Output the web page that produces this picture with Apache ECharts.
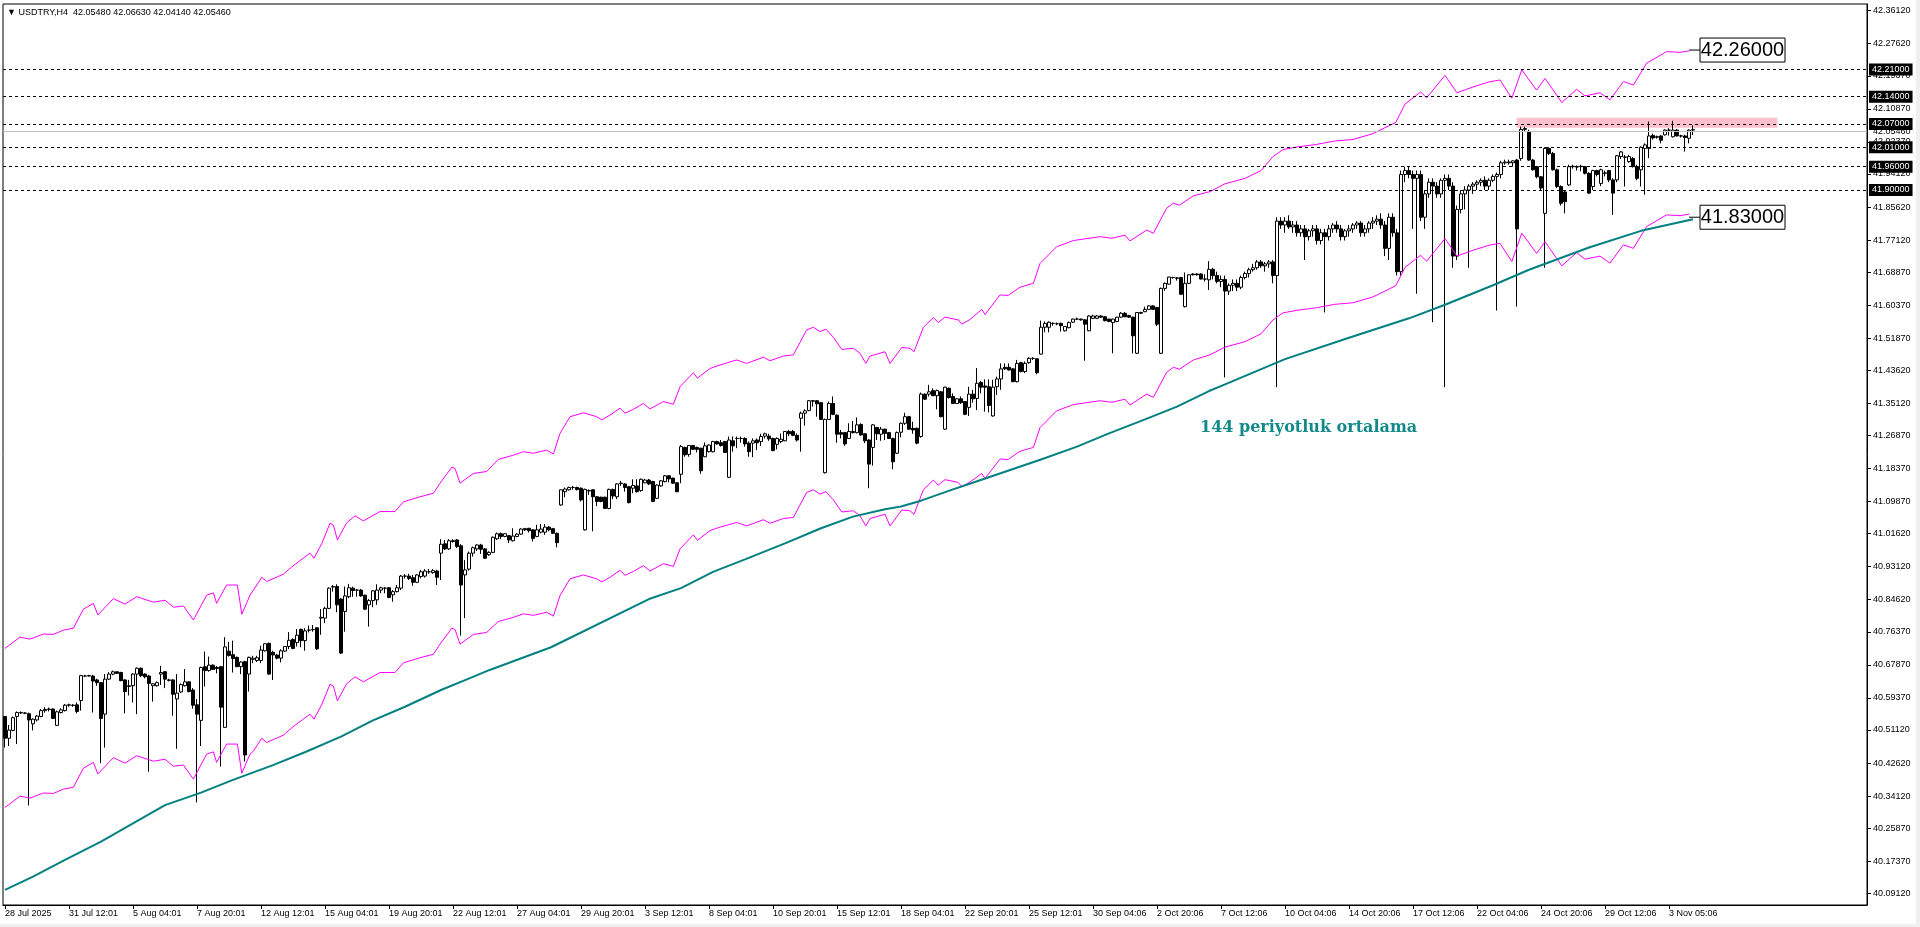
<!DOCTYPE html>
<html><head><meta charset="utf-8">
<script src="https://cdn.jsdelivr.net/npm/echarts@6/dist/echarts.min.js"></script>
<style>html,body{margin:0;padding:0;background:#fff;overflow:hidden}#c{width:1920px;height:927px}</style>
</head><body><div id="c"></div>
<script>
// ---------- data ----------
const headerText = '\u25BC USDTRY,H4  42.05480 42.06630 42.04140 42.05460';
const xLabels = ['28 Jul 2025','31 Jul 12:01','5 Aug 04:01','7 Aug 20:01','12 Aug 12:01','15 Aug 04:01','19 Aug 20:01','22 Aug 12:01','27 Aug 04:01','29 Aug 20:01','3 Sep 12:01','8 Sep 04:01','10 Sep 20:01','15 Sep 12:01','18 Sep 04:01','22 Sep 20:01','25 Sep 12:01','30 Sep 04:06','2 Oct 20:06','7 Oct 12:06','10 Oct 04:06','14 Oct 20:06','17 Oct 12:06','22 Oct 04:06','24 Oct 20:06','29 Oct 12:06','3 Nov 05:06'];
const barsPerLabel = 16;
const slotCount = 466;
const yTicks = [42.36120,42.27620,42.19370,42.10870,42.02370,41.94120,41.85620,41.77120,41.68870,41.60370,41.51870,41.43620,41.35120,41.26870,41.18370,41.09870,41.01620,40.93120,40.84620,40.76370,40.67870,40.59370,40.51120,40.42620,40.34120,40.25870,40.17370,40.09120];
const yMin = 40.0611, yMax = 42.3784;
const levelLines = [42.21, 42.14, 42.07, 42.01, 41.96, 41.90];
const bidPrice = 42.0546;
const zone = {start: 377.9, end: 443.1, top: 42.086, bottom: 42.060};
const targetUp = {idx: 423.75, value: 42.26, text: '42.26000'};
const targetDown = {idx: 423.75, value: 41.83, text: '41.83000'};
const maNote = {idx: 298.75, value: 41.289, text: '144 periyotluk ortalama'};

// open, high, low, close
const ohlc = [
[40.546,40.547,40.466,40.490],[40.490,40.524,40.470,40.511],[40.510,40.546,40.508,40.543],[40.546,40.559,40.475,40.556],[40.555,40.559,40.553,40.556],
[40.554,40.557,40.552,40.555],[40.553,40.556,40.317,40.537],[40.527,40.541,40.510,40.539],[40.537,40.550,40.533,40.547],[40.546,40.565,40.544,40.561],
[40.561,40.570,40.556,40.564],[40.564,40.569,40.559,40.565],[40.565,40.567,40.540,40.541],[40.523,40.561,40.523,40.558],[40.556,40.567,40.554,40.563],
[40.561,40.578,40.559,40.575],[40.575,40.579,40.571,40.576],[40.575,40.578,40.571,40.574],[40.576,40.582,40.554,40.559],[40.587,40.653,40.561,40.651],
[40.650,40.653,40.649,40.650],[40.650,40.653,40.649,40.651],[40.650,40.653,40.556,40.637],[40.640,40.643,40.625,40.633],[40.633,40.635,40.426,40.541],
[40.552,40.655,40.466,40.642],[40.642,40.660,40.640,40.655],[40.655,40.664,40.652,40.661],[40.661,40.661,40.655,40.657],[40.659,40.661,40.637,40.638],
[40.640,40.642,40.554,40.610],[40.623,40.640,40.600,40.625],[40.625,40.657,40.582,40.655],[40.655,40.672,40.552,40.670],[40.670,40.672,40.647,40.651],
[40.655,40.657,40.644,40.648],[40.650,40.653,40.404,40.631],[40.625,40.631,40.584,40.630],[40.625,40.636,40.623,40.633],[40.655,40.676,40.627,40.659],
[40.661,40.663,40.619,40.642],[40.640,40.643,40.636,40.639],[40.640,40.642,40.548,40.603],[40.591,40.655,40.463,40.606],[40.609,40.631,40.606,40.628],
[40.625,40.668,40.623,40.635],[40.635,40.636,40.608,40.610],[40.614,40.619,40.566,40.575],[40.576,40.591,40.325,40.552],[40.536,40.674,40.470,40.672],
[40.674,40.713,40.623,40.664],[40.664,40.700,40.661,40.678],[40.678,40.680,40.666,40.667],[40.672,40.676,40.657,40.669],[40.674,40.676,40.417,40.570],
[40.518,40.750,40.517,40.725],[40.714,40.738,40.700,40.703],[40.705,40.741,40.659,40.695],[40.698,40.700,40.673,40.674],[40.674,40.688,40.655,40.686],
[40.687,40.689,40.430,40.447],[40.655,40.700,40.610,40.698],[40.693,40.702,40.683,40.696],[40.690,40.702,40.686,40.697],[40.690,40.728,40.683,40.717],
[40.715,40.734,40.713,40.733],[40.734,40.736,40.653,40.655],[40.711,40.715,40.640,40.704],[40.704,40.707,40.693,40.696],[40.696,40.719,40.685,40.715],
[40.714,40.727,40.712,40.726],[40.726,40.763,40.719,40.742],[40.744,40.747,40.719,40.721],[40.736,40.771,40.726,40.755],[40.770,40.772,40.724,40.741],
[40.741,40.773,40.715,40.766],[40.768,40.780,40.762,40.768],[40.769,40.781,40.764,40.770],[40.774,40.775,40.717,40.720],[40.799,40.822,40.756,40.801],
[40.799,40.828,40.786,40.824],[40.824,40.878,40.822,40.876],[40.879,40.884,40.867,40.880],[40.880,40.886,40.814,40.833],[40.848,40.850,40.707,40.709],
[40.816,40.880,40.764,40.856],[40.854,40.887,40.850,40.877],[40.876,40.880,40.854,40.870],[40.871,40.873,40.854,40.871],[40.871,40.874,40.854,40.856],
[40.858,40.859,40.820,40.822],[40.833,40.848,40.777,40.844],[40.844,40.871,40.827,40.869],[40.846,40.886,40.833,40.871],[40.871,40.880,40.863,40.877],
[40.876,40.878,40.863,40.876],[40.877,40.879,40.850,40.852],[40.859,40.871,40.841,40.867],[40.867,40.884,40.865,40.877],[40.876,40.910,40.871,40.907],
[40.907,40.912,40.901,40.907],[40.907,40.913,40.897,40.901],[40.903,40.910,40.882,40.891],[40.891,40.912,40.889,40.910],[40.906,40.923,40.901,40.918],
[40.907,40.925,40.903,40.920],[40.918,40.925,40.913,40.918],[40.916,40.925,40.913,40.921],[40.920,40.923,40.884,40.904],[40.966,41.002,40.897,40.989],
[40.990,41.000,40.974,40.977],[40.977,41.002,40.974,40.998],[40.998,41.002,40.993,40.996],[41.000,41.002,40.979,40.983],[40.985,40.989,40.754,40.884],
[40.910,40.948,40.799,40.923],[40.925,40.970,40.921,40.966],[40.966,40.983,40.957,40.980],[40.977,40.989,40.972,40.987],[40.987,40.990,40.964,40.976],
[40.977,40.979,40.951,40.953],[40.962,40.971,40.959,40.968],[40.968,41.009,40.966,41.007],[41.003,41.019,41.000,41.016],[41.016,41.019,41.002,41.009],
[41.009,41.017,41.007,41.016],[41.011,41.013,40.992,41.000],[40.998,41.030,40.996,41.010],[41.009,41.017,41.007,41.015],[41.015,41.030,41.013,41.028],
[41.029,41.031,41.023,41.026],[41.030,41.031,41.019,41.024],[41.026,41.027,40.996,41.004],[41.009,41.039,41.007,41.026],[41.020,41.041,41.017,41.028],
[41.020,41.041,41.013,41.033],[41.033,41.036,41.022,41.026],[41.029,41.031,41.016,41.017],[41.017,41.019,40.981,40.993],[41.090,41.130,41.088,41.129],
[41.124,41.135,41.110,41.131],[41.129,41.137,41.127,41.135],[41.135,41.139,41.129,41.135],[41.135,41.137,41.127,41.130],[41.133,41.135,41.099,41.103],
[41.026,41.132,41.024,41.130],[41.127,41.130,41.116,41.126],[41.129,41.130,41.022,41.111],[41.111,41.113,41.087,41.099],[41.110,41.111,41.097,41.099],
[41.110,41.111,41.080,41.081],[41.081,41.132,41.079,41.130],[41.130,41.132,41.105,41.113],[41.111,41.146,41.105,41.144],[41.146,41.152,41.139,41.145],
[41.144,41.146,41.124,41.135],[41.137,41.139,41.094,41.096],[41.133,41.156,41.120,41.140],[41.139,41.156,41.122,41.124],[41.127,41.158,41.124,41.156],
[41.147,41.157,41.146,41.154],[41.154,41.157,41.141,41.144],[41.150,41.152,41.097,41.099],[41.107,41.143,41.105,41.141],[41.139,41.154,41.137,41.152],
[41.150,41.167,41.148,41.165],[41.165,41.167,41.148,41.157],[41.159,41.160,41.144,41.146],[41.147,41.149,41.123,41.124],[41.169,41.244,41.146,41.240],
[41.238,41.240,41.214,41.219],[41.220,41.244,41.214,41.243],[41.243,41.244,41.232,41.233],[41.238,41.240,41.225,41.233],[41.236,41.237,41.170,41.178],
[41.214,41.251,41.213,41.242],[41.227,41.246,41.225,41.244],[41.227,41.255,41.225,41.253],[41.253,41.255,41.245,41.247],[41.250,41.257,41.240,41.243],
[41.253,41.255,41.224,41.225],[41.161,41.266,41.160,41.257],[41.255,41.266,41.227,41.242],[41.261,41.266,41.236,41.261],[41.261,41.266,41.250,41.261],
[41.261,41.264,41.240,41.247],[41.249,41.253,41.214,41.227],[41.249,41.261,41.213,41.255],[41.257,41.261,41.231,41.250],[41.253,41.273,41.242,41.266],
[41.267,41.276,41.261,41.273],[41.267,41.273,41.255,41.260],[41.261,41.263,41.228,41.230],[41.246,41.264,41.233,41.261],[41.253,41.274,41.249,41.259],
[41.255,41.280,41.254,41.279],[41.279,41.283,41.267,41.273],[41.279,41.283,41.267,41.269],[41.269,41.274,41.253,41.257],[41.313,41.330,41.227,41.326],
[41.326,41.336,41.294,41.332],[41.333,41.360,41.331,41.358],[41.358,41.360,41.343,41.357],[41.358,41.360,41.317,41.350],[41.353,41.355,41.309,41.310],
[41.173,41.312,41.171,41.310],[41.310,41.356,41.309,41.351],[41.351,41.369,41.321,41.323],[41.321,41.323,41.250,41.272],[41.276,41.283,41.261,41.272],
[41.276,41.278,41.242,41.247],[41.261,41.300,41.261,41.279],[41.279,41.306,41.274,41.276],[41.276,41.315,41.274,41.296],[41.297,41.300,41.268,41.270],
[41.273,41.274,41.249,41.255],[41.257,41.259,41.133,41.195],[41.238,41.298,41.191,41.296],[41.289,41.291,41.257,41.273],[41.272,41.291,41.255,41.285],
[41.285,41.286,41.257,41.274],[41.276,41.278,41.260,41.261],[41.261,41.263,41.182,41.201],[41.223,41.279,41.221,41.276],[41.277,41.302,41.264,41.300],
[41.300,41.327,41.296,41.317],[41.317,41.319,41.283,41.285],[41.287,41.304,41.273,41.283],[41.287,41.289,41.246,41.249],[41.266,41.379,41.263,41.375],
[41.375,41.377,41.360,41.362],[41.375,41.399,41.369,41.381],[41.384,41.390,41.370,41.371],[41.371,41.387,41.336,41.384],[41.381,41.383,41.315,41.317],
[41.285,41.394,41.283,41.393],[41.390,41.392,41.364,41.366],[41.369,41.377,41.350,41.351],[41.351,41.364,41.350,41.363],[41.363,41.369,41.350,41.353],
[41.356,41.357,41.321,41.323],[41.341,41.394,41.319,41.375],[41.375,41.386,41.353,41.363],[41.364,41.442,41.334,41.403],[41.405,41.409,41.377,41.393],
[41.396,41.413,41.330,41.393],[41.394,41.413,41.328,41.346],[41.319,41.412,41.317,41.393],[41.394,41.420,41.373,41.414],[41.414,41.454,41.386,41.440],
[41.444,41.454,41.437,41.440],[41.444,41.454,41.436,41.437],[41.440,41.442,41.406,41.407],[41.407,41.463,41.405,41.454],[41.456,41.458,41.431,41.433],
[41.433,41.459,41.429,41.454],[41.456,41.470,41.453,41.467],[41.467,41.470,41.463,41.467],[41.466,41.467,41.426,41.430],[41.478,41.564,41.477,41.547],
[41.547,41.562,41.534,41.557],[41.547,41.562,41.534,41.560],[41.557,41.559,41.551,41.557],[41.556,41.559,41.552,41.556],[41.557,41.559,41.536,41.551],
[41.538,41.550,41.536,41.549],[41.546,41.562,41.544,41.559],[41.560,41.569,41.558,41.568],[41.568,41.572,41.566,41.568],[41.568,41.569,41.564,41.566],
[41.566,41.568,41.461,41.555],[41.538,41.578,41.537,41.576],[41.570,41.579,41.568,41.576],[41.570,41.578,41.568,41.576],[41.576,41.578,41.571,41.573],
[41.574,41.576,41.562,41.564],[41.568,41.569,41.560,41.562],[41.559,41.569,41.480,41.568],[41.562,41.574,41.560,41.573],[41.573,41.586,41.571,41.583],
[41.583,41.586,41.573,41.574],[41.577,41.579,41.571,41.573],[41.573,41.574,41.480,41.525],[41.480,41.586,41.478,41.585],[41.583,41.587,41.581,41.585],
[41.587,41.600,41.586,41.593],[41.593,41.604,41.592,41.602],[41.602,41.604,41.592,41.593],[41.598,41.599,41.550,41.555],[41.480,41.649,41.478,41.647],
[41.647,41.662,41.641,41.660],[41.658,41.677,41.657,41.676],[41.675,41.677,41.672,41.675],[41.674,41.676,41.667,41.673],[41.675,41.676,41.630,41.632],
[41.600,41.688,41.598,41.660],[41.660,41.683,41.658,41.682],[41.684,41.686,41.680,41.682],[41.684,41.686,41.680,41.682],[41.684,41.686,41.670,41.671],
[41.671,41.683,41.665,41.671],[41.669,41.717,41.643,41.696],[41.696,41.700,41.670,41.680],[41.680,41.690,41.660,41.665],[41.665,41.680,41.650,41.670],
[41.670,41.680,41.418,41.640],[41.640,41.660,41.630,41.655],[41.655,41.670,41.640,41.660],[41.660,41.670,41.640,41.650],[41.650,41.680,41.645,41.675],
[41.675,41.690,41.670,41.685],[41.685,41.700,41.675,41.695],[41.695,41.710,41.690,41.700],[41.700,41.720,41.695,41.715],[41.715,41.720,41.700,41.705],
[41.705,41.715,41.690,41.710],[41.710,41.720,41.700,41.715],[41.715,41.720,41.660,41.680],[41.680,41.830,41.393,41.820],[41.820,41.830,41.800,41.810],
[41.810,41.830,41.790,41.820],[41.820,41.835,41.800,41.805],[41.805,41.820,41.790,41.810],[41.810,41.820,41.780,41.790],[41.790,41.810,41.780,41.800],
[41.800,41.810,41.720,41.780],[41.780,41.800,41.770,41.795],[41.795,41.810,41.780,41.800],[41.800,41.810,41.760,41.770],[41.770,41.800,41.760,41.790],
[41.790,41.800,41.585,41.780],[41.780,41.810,41.770,41.800],[41.800,41.815,41.790,41.810],[41.810,41.820,41.790,41.800],[41.800,41.810,41.770,41.780],
[41.780,41.800,41.770,41.795],[41.795,41.810,41.780,41.800],[41.800,41.815,41.790,41.810],[41.810,41.820,41.800,41.815],[41.815,41.820,41.780,41.790],
[41.790,41.810,41.780,41.800],[41.800,41.820,41.790,41.815],[41.815,41.830,41.800,41.820],[41.820,41.835,41.810,41.825],[41.825,41.840,41.800,41.810],
[41.810,41.820,41.730,41.750],[41.750,41.840,41.720,41.830],[41.830,41.840,41.780,41.790],[41.790,41.800,41.680,41.690],[41.690,41.950,41.680,41.940],
[41.940,41.960,41.920,41.950],[41.950,41.960,41.930,41.940],[41.940,41.950,41.800,41.930],[41.930,41.950,41.633,41.940],[41.940,41.950,41.820,41.830],
[41.830,41.900,41.800,41.890],[41.890,41.930,41.880,41.920],[41.920,41.930,41.560,41.910],[41.910,41.920,41.880,41.890],[41.890,41.930,41.880,41.925],
[41.925,41.940,41.393,41.930],[41.930,41.940,41.900,41.910],[41.910,41.920,41.700,41.730],[41.730,41.860,41.720,41.850],[41.850,41.900,41.840,41.890],
[41.890,41.910,41.850,41.900],[41.900,41.915,41.700,41.910],[41.910,41.920,41.890,41.915],[41.915,41.925,41.900,41.920],[41.920,41.930,41.910,41.925],
[41.925,41.935,41.900,41.910],[41.910,41.930,41.900,41.925],[41.925,41.940,41.920,41.935],[41.935,41.945,41.590,41.940],[41.940,41.975,41.930,41.970],
[41.970,41.978,41.965,41.972],[41.972,41.978,41.965,41.970],[41.970,41.976,41.960,41.975],[41.977,41.980,41.600,41.800],[41.981,42.063,41.975,42.056],
[42.056,42.063,42.050,42.058],[42.050,42.055,41.975,41.977],[41.977,41.980,41.950,41.952],[41.960,41.962,41.930,41.934],[41.934,41.936,41.900,41.905],
[41.840,42.010,41.700,42.007],[42.007,42.010,41.990,41.994],[41.994,41.998,41.950,41.952],[41.952,41.955,41.905,41.909],[41.909,41.912,41.860,41.866],
[41.895,41.900,41.840,41.870],[41.913,41.965,41.910,41.960],[41.960,41.965,41.955,41.961],[41.960,41.963,41.950,41.959],[41.960,41.965,41.948,41.961],
[41.960,41.962,41.940,41.943],[41.943,41.945,41.890,41.892],[41.909,41.952,41.900,41.950],[41.950,41.952,41.935,41.940],[41.917,41.955,41.910,41.952],
[41.943,41.950,41.935,41.944],[41.950,41.952,41.920,41.926],[41.926,41.930,41.836,41.892],[41.926,41.990,41.920,41.988],[41.986,42.000,41.980,41.998],
[41.984,41.990,41.909,41.985],[41.973,41.990,41.970,41.986],[41.981,41.985,41.958,41.960],[41.960,41.965,41.925,41.930],[41.952,42.012,41.909,42.010],
[42.007,42.020,41.888,42.016],[42.007,42.076,41.982,42.039],[42.040,42.045,42.030,42.034],[42.037,42.040,42.032,42.036],[42.039,42.041,42.020,42.028],
[42.042,42.056,42.040,42.054],[42.054,42.059,42.040,42.054],[42.037,42.078,42.035,42.054],[42.054,42.057,42.038,42.039],[42.039,42.042,42.035,42.039],
[42.039,42.042,41.999,42.035],[42.033,42.056,42.020,42.054],[42.0548,42.0663,42.0414,42.0546]
];

// 144-period moving average: [bar index, price]
const ma144 = [[0,40.100],[7,40.134],[15,40.177],[24,40.224],[32,40.271],[40,40.318],[49,40.350],[57,40.383],[67,40.421],[75.4,40.456],[84,40.494],[92,40.536],[100,40.571],[109,40.614],[117,40.648],[121,40.665],[136.5,40.724],[161,40.848],[169,40.876],[177,40.918],[185,40.950],[195,40.991],[204,41.030],[212,41.060],[220,41.079],[224,41.086],[229,41.101],[237,41.130],[241,41.144],[259,41.207],[268,41.240],[276,41.274],[285,41.310],[293,41.343],[301,41.383],[305,41.400],[320,41.465],[336,41.520],[351,41.570],[360,41.605],[372,41.655],[381,41.695],[396,41.752],[409,41.795],[422,41.825]];

// envelope bands: [bar index, price]
const upperBand = [[0,40.721],[3.75,40.750],[6.25,40.745],[9.6,40.758],[12.1,40.757],[14.6,40.768],[17.1,40.773],[19.6,40.822],[22.1,40.837],[23.2,40.807],[27.1,40.849],[30,40.835],[32.9,40.854],[37.1,40.840],[40,40.845],[42.1,40.827],[44.6,40.830],[47.1,40.794],[50.4,40.858],[52.1,40.864],[52.9,40.837],[55.4,40.884],[58.1,40.884],[59.2,40.809],[61.25,40.858],
[62.1,40.871],[64.2,40.904],[65.4,40.893],[69.6,40.912],[71.7,40.931],[76.25,40.966],[77.25,40.953],[79.2,40.991],[81.25,41.043],[82.1,41.038],[83.1,41.000],[85.4,41.044],[87.5,41.062],[89.6,41.049],[93.75,41.073],[97.5,41.073],[99.6,41.098],[103.75,41.111],[107.1,41.120],[108.75,41.146],[111.7,41.187],[112.5,41.184],[113.75,41.146],[117.1,41.171],[120.4,41.176],
[123.3,41.207],[127.1,41.218],[129.6,41.227],[132.1,41.223],[135.4,41.231],[137.1,41.221],[138.75,41.274],[141.25,41.317],[144.6,41.327],[147.9,41.317],[149.2,41.309],[151.25,41.321],[153.75,41.339],[155,41.326],[157.1,41.336],[159.6,41.351],[161.25,41.337],[164.6,41.356],[167.1,41.349],[168.75,41.394],[172.1,41.430],[173.1,41.416],[176.25,41.441],[178.75,41.450],
[182.9,41.463],[185.4,41.454],[189.6,41.470],[191.25,41.461],[194.6,41.473],[197.1,41.476],[200.4,41.540],[202.1,41.547],[203.75,41.536],[205.25,41.542],[207.1,41.521],[209.2,41.490],[212.1,41.493],[213.75,41.480],[215.2,41.454],[216.25,41.473],[220,41.484],[221.25,41.454],[224.2,41.495],[226.25,41.493],[227.25,41.484],[229.6,41.547],[232.1,41.572],[233.3,41.559],[235,41.573],[238.3,41.566],[239.2,41.555],[241.25,41.567],
[244.2,41.593],[245,41.580],[248.75,41.630],[250.8,41.629],[253.75,41.650],[257.1,41.660],[258.75,41.711],[262.9,41.754],[267.1,41.770],[273.75,41.780],[276.7,41.776],[280,41.784],[281.25,41.769],[285.4,41.797],[287.1,41.789],[290.4,41.853],[292.1,41.866],[293.6,41.861],[297.1,41.885],[301.25,41.896],
[305,41.916],[310,41.930],[314,41.950],[317,41.986],[319.5,42.004],[323.2,42.011],[327.8,42.017],[332.4,42.026],[337,42.030],[342,42.045],[347.7,42.074],[350,42.121],[353.9,42.152],[355.4,42.137],[360,42.195],[363,42.150],[367,42.165],[371,42.178],[373.75,42.183],[376.7,42.136],[379.2,42.209],[382.9,42.157],[385,42.187],[389.2,42.125],[392.9,42.159],[395,42.142],[398.75,42.150],[401.25,42.132],[404.6,42.179],[407.1,42.170],[410.4,42.226],[415.4,42.256],[418.75,42.254],[421.1,42.258]];
const lowerBand = [[0,40.312],[3.75,40.341],[6.25,40.336],[9.6,40.349],[12.1,40.348],[14.6,40.359],[17.1,40.364],[19.6,40.413],[22.1,40.428],[23.2,40.398],[27.1,40.440],[30,40.426],[32.9,40.445],[37.1,40.431],[40,40.436],[42.1,40.418],[44.6,40.421],[47.1,40.385],[50.4,40.449],[52.1,40.455],[52.9,40.428],[55.4,40.475],[58.1,40.475],[59.2,40.400],[61.25,40.449],
[62.1,40.457],[64.2,40.490],[65.4,40.479],[69.6,40.498],[71.7,40.517],[76.25,40.552],[77.25,40.539],[79.2,40.577],[81.25,40.629],[82.1,40.624],[83.1,40.586],[85.4,40.630],[87.5,40.648],[89.6,40.635],[93.75,40.659],[97.5,40.659],[99.6,40.684],[103.75,40.697],[107.1,40.706],[108.75,40.732],[111.7,40.773],[112.5,40.770],[113.75,40.732],[117.1,40.757],[120.4,40.762],
[123.3,40.790],[127.1,40.801],[129.6,40.810],[132.1,40.806],[135.4,40.814],[137.1,40.804],[138.75,40.857],[141.25,40.900],[144.6,40.910],[147.9,40.900],[149.2,40.892],[151.25,40.904],[153.75,40.922],[155,40.909],[157.1,40.919],[159.6,40.934],[161.25,40.920],[164.6,40.939],[167.1,40.932],[168.75,40.977],[172.1,41.013],[173.1,40.999],[176.25,41.024],[178.75,41.033],
[182.9,41.045],[185.4,41.036],[189.6,41.052],[191.25,41.043],[194.6,41.055],[197.1,41.058],[200.4,41.122],[202.1,41.129],[203.75,41.118],[205.25,41.124],[207.1,41.103],[209.2,41.072],[212.1,41.075],[213.75,41.062],[215.2,41.036],[216.25,41.055],[220,41.066],[221.25,41.036],[224.2,41.077],[226.25,41.075],[227.25,41.066],[229.6,41.129],[232.1,41.154],[233.3,41.141],[235,41.155],[238.3,41.148],[239.2,41.137],[241.25,41.149],
[244.2,41.171],[245,41.158],[248.75,41.208],[250.8,41.207],[253.75,41.228],[257.1,41.238],[258.75,41.289],[262.9,41.332],[267.1,41.348],[273.75,41.358],[276.7,41.354],[280,41.362],[281.25,41.347],[285.4,41.375],[287.1,41.367],[290.4,41.431],[292.1,41.444],[293.6,41.439],[297.1,41.463],[301.25,41.476],
[305,41.496],[310,41.510],[314,41.530],[317,41.566],[319.5,41.584],[323.2,41.591],[327.8,41.597],[332.4,41.606],[337,41.610],[342,41.625],[347.7,41.654],[350,41.701],[353.9,41.732],[355.4,41.717],[360,41.775],[363,41.730],[367,41.745],[371,41.758],[373.75,41.763],[376.7,41.716],[379.2,41.789],[382.9,41.737],[385,41.767],[389.2,41.705],[392.9,41.739],[395,41.722],[398.75,41.730],[401.25,41.712],[404.6,41.759],[407.1,41.750],[410.4,41.806],[415.4,41.836],[418.75,41.834],[421.1,41.838]];

// ---------- chart ----------
const categories = Array.from({length: slotCount}, (_, i) => String(i));
const isLabelSlot = (i) => i % barsPerLabel === 0 && (i / barsPerLabel) < xLabels.length;
const candleData = ohlc.map(r => [r[0], r[3], r[2], r[1]]);
const FONT = 'Liberation Sans, Arial, sans-serif';

const chart = echarts.init(document.getElementById('c'), null, {renderer: 'canvas'});
const levelItems = [{yAxis: bidPrice, lineStyle: {type: 'solid', color: '#c0c0c0', width: 1},
   label: {show: true, position: 'end', distance: 6, formatter: () => bidPrice.toFixed(5), color: '#000',
     backgroundColor: 'transparent', padding: 0, fontSize: 9, fontFamily: FONT}}]
  .concat(levelLines.map(v => ({yAxis: v, label: {formatter: () => v.toFixed(5)}})));

chart.setOption({
  animation: false,
  backgroundColor: '#ffffff',
  grid: {left: 3, right: 53, top: 4, bottom: 22, show: true, borderColor: '#000', borderWidth: 1, backgroundColor: 'rgba(0,0,0,0)'},
  xAxis: [{
    type: 'category', data: categories, boundaryGap: true,
    axisLine: {show: true, lineStyle: {color: '#000', width: 1}},
    axisTick: {show: true, alignWithLabel: true, interval: (i) => isLabelSlot(i), length: 4, lineStyle: {color: '#000'}},
    axisLabel: {show: true, interval: (i) => isLabelSlot(i), formatter: (v) => xLabels[Number(v) / barsPerLabel] || '',
      align: 'left', color: '#000', fontSize: 9, fontFamily: FONT, margin: 4},
    splitLine: {show: false}
  }, {
    type: 'value', min: -0.5, max: slotCount - 0.5, show: false
  }],
  yAxis: {
    type: 'value', position: 'right', min: yMin, max: yMax,
    axisLine: {show: true, onZero: false, lineStyle: {color: '#000'}},
    axisTick: {show: true, length: 4, customValues: yTicks, lineStyle: {color: '#000'}},
    axisLabel: {show: true, customValues: yTicks, formatter: (v) => Number(v).toFixed(5), color: '#000', fontSize: 9, fontFamily: FONT, margin: 6},
    splitLine: {show: false}
  },
  series: [
    {
      type: 'line', xAxisIndex: 1, z: 1, silent: true, symbol: 'none',
      data: [[zone.start, zone.bottom], [zone.end, zone.bottom]], lineStyle: {width: 0, opacity: 0},
      markArea: {silent: true, itemStyle: {color: '#ffc0cb', opacity: 1},
        data: [[{xAxis: zone.start, yAxis: zone.top}, {xAxis: zone.end, yAxis: zone.bottom}]]},
      markLine: {silent: true, symbol: ['none', 'none'], animation: false,
        lineStyle: {type: [3, 3], color: '#000', width: 1},
        label: {show: true, position: 'end', distance: 2, color: '#fff', backgroundColor: '#000', padding: [2, 3, 1, 3],
          fontSize: 9, fontFamily: FONT},
        data: levelItems}
    },
    {
      type: 'candlestick', xAxisIndex: 0, z: 3, barWidth: 3, data: candleData,
      itemStyle: {color: '#ffffff', color0: '#000000', borderColor: '#000000', borderColor0: '#000000', borderWidth: 1}
    },
    {type: 'line', xAxisIndex: 1, z: 4, symbol: 'none', data: upperBand, lineStyle: {color: '#ff00ff', width: 1}},
    {type: 'line', xAxisIndex: 1, z: 4, symbol: 'none', data: lowerBand, lineStyle: {color: '#ff00ff', width: 1}},
    {type: 'line', xAxisIndex: 1, z: 5, symbol: 'none', data: ma144, lineStyle: {color: '#008080', width: 2}}
  ]
});

function px(idx, val) { return chart.convertToPixel({xAxisIndex: 1, yAxisIndex: 0}, [idx, val]); }
function priceBox(t) {
  const p = px(t.idx, t.value);
  return {type: 'group', x: p[0], y: p[1], children: [
    {type: 'line', shape: {x1: -11, y1: 0, x2: 0, y2: 0}, style: {stroke: '#000', lineWidth: 1}},
    {type: 'rect', shape: {x: 0, y: -12, width: 85, height: 24}, style: {fill: '#fff', stroke: '#000', lineWidth: 1}},
    {type: 'text', x: 42.5, y: 0, style: {text: t.text, fill: '#000', font: '20px ' + FONT, textAlign: 'center', textVerticalAlign: 'middle'}}
  ]};
}
const notePos = px(maNote.idx, maNote.value);
chart.setOption({graphic: [
  {type: 'rect', left: 1916, top: 0, shape: {width: 4, height: 927}, style: {fill: '#f0f0f0'}},
  {type: 'rect', left: 0, top: 924, shape: {width: 1920, height: 3}, style: {fill: '#f0f0f0'}},
  {type: 'text', left: 7, top: 8, style: {text: headerText, fill: '#000', font: '9px ' + FONT}},
  priceBox(targetUp), priceBox(targetDown),
  {type: 'text', x: notePos[0], y: notePos[1], style: {text: maNote.text, fill: '#138a8a', font: 'bold 16px "DejaVu Serif", serif', textAlign: 'left', textVerticalAlign: 'middle'}}
]});
</script></body></html>
